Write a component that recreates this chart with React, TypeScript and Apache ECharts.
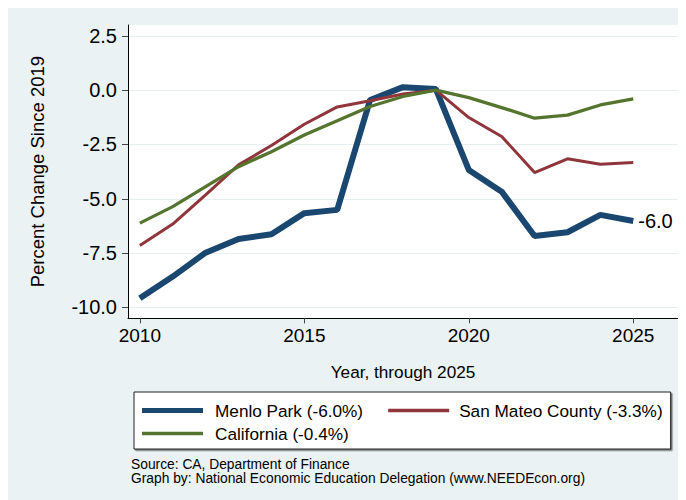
import React, { useEffect, useRef } from "react";
import * as echarts from "echarts";

const years = [2010, 2011, 2012, 2013, 2014, 2015, 2016, 2017, 2018, 2019, 2020, 2021, 2022, 2023, 2024, 2025];
const menloPark = [-9.58, -8.58, -7.48, -6.85, -6.63, -5.66, -5.51, -0.45, 0.14, 0.05, -3.67, -4.67, -6.71, -6.54, -5.74, -6.02];
const sanMateo = [-7.15, -6.16, -4.82, -3.44, -2.55, -1.57, -0.77, -0.49, -0.18, 0.0, -1.26, -2.13, -3.79, -3.16, -3.41, -3.33];
const california = [-6.12, -5.36, -4.44, -3.52, -2.83, -2.06, -1.41, -0.75, -0.29, 0.0, -0.34, -0.8, -1.29, -1.15, -0.68, -0.4];
const seriesNames = ["Menlo Park (-6.0%)", "San Mateo County (-3.3%)", "California (-0.4%)"];
const yTicks = [-10, -7.5, -5, -2.5, 0, 2.5];
const xTicks = [2010, 2015, 2020, 2025];
const xTitle = "Year, through 2025";
const yTitle = "Percent Change Since 2019";
const notes = ["Source: CA, Department of Finance", "Graph by: National Economic Education Delegation (www.NEEDEcon.org)"];

const FONT = "'Liberation Sans', Arial, Helvetica, sans-serif";

export default function App() {
  const ref = useRef<HTMLDivElement>(null);
  useEffect(() => {
    document.documentElement.style.overflow = "hidden";
    document.body.style.overflow = "hidden";
    const chart = echarts.init(ref.current!, undefined, { renderer: "svg" });
    const toPairs = (arr: number[]) => years.map((y, i) => [y, arr[i]]);
    chart.setOption({
      animation: false,
      backgroundColor: "#eaf2f3",
      textStyle: { fontFamily: FONT },
      grid: {
        left: 120,
        top: 17,
        right: 8,
        bottom: 181.7,
        show: true,
        backgroundColor: "#ffffff",
        borderWidth: 0,
      },
      xAxis: {
        type: "value",
        min: 2009.64,
        max: 2026.36,
        name: xTitle,
        nameLocation: "middle",
        nameGap: 45,
        nameTextStyle: { fontSize: 17.2, color: "#000", fontFamily: FONT },
        axisLine: { show: true, onZero: false, lineStyle: { color: "#000", width: 1 } },
        axisTick: { show: true, length: 5, customValues: xTicks, lineStyle: { color: "#444" } },
        axisLabel: {
          customValues: xTicks,
          fontSize: 19,
          color: "#000",
          margin: 8,
          fontFamily: FONT,
          formatter: (v: number) => String(v),
        },
        splitLine: { show: false },
      },
      yAxis: {
        type: "value",
        min: -10.5,
        max: 3.0,
        name: yTitle,
        nameLocation: "middle",
        nameGap: 81,
        nameRotate: 90,
        nameTextStyle: { fontSize: 18.5, color: "#000", fontFamily: FONT },
        axisLine: { show: true, onZero: false, lineStyle: { color: "#000", width: 1 } },
        axisTick: { show: true, length: 6, customValues: yTicks, lineStyle: { color: "#444" } },
        axisLabel: {
          customValues: yTicks,
          fontSize: 20,
          color: "#000",
          margin: 11,
          fontFamily: FONT,
          formatter: (v: number) => v.toFixed(1),
        },
        splitLine: { show: true, lineStyle: { color: "#e6eeef", width: 1.2 } },
      },
      legend: {
        left: 126,
        top: 384,
        width: 545,
        orient: "horizontal",
        itemGap: 6,
        itemWidth: 61,
        itemHeight: 14,
        padding: [10, 8, 7, 8],
        backgroundColor: "#ffffff",
        borderColor: "#222",
        borderWidth: 1,
        shadowColor: "rgba(0,0,0,0.5)",
        shadowOffsetX: 1.5,
        shadowOffsetY: 1.5,
        shadowBlur: 0,
        textStyle: { fontSize: 17.2, color: "#000", fontFamily: FONT },
        formatter: (name: string) =>
          name === seriesNames[0] ? name + "\u00A0\u00A0\u00A0\u00A0" : name,
        data: [
          { name: seriesNames[0], icon: "path://M0,0H61V5H0Z", textStyle: { padding: [0, 0, 0, 7] } },
          { name: seriesNames[1], icon: "path://M0,0H61V3.3H0Z", textStyle: { padding: [0, 0, 0, 5] } },
          { name: seriesNames[2], icon: "path://M0,0H61V3.5H0Z", textStyle: { padding: [0, 0, 0, 7] } },
        ],
      },
      graphic: [
        {
          type: "text",
          left: 123,
          top: 449,
          style: { text: notes[0], font: `13.8px ${FONT}`, fill: "#000" },
        },
        {
          type: "text",
          left: 123,
          top: 463,
          style: { text: notes[1], font: `13.8px ${FONT}`, fill: "#000" },
        },
      ],
      series: [
        {
          name: seriesNames[0],
          type: "line",
          data: toPairs(menloPark),
          symbol: "none",
          color: "#1a476f",
          lineStyle: { width: 6, color: "#1a476f" },
          endLabel: {
            show: true,
            formatter: (p: any) => p.value[1].toFixed(1),
            fontSize: 20,
            color: "#000",
            distance: 5,
            fontFamily: FONT,
          },
        },
        {
          name: seriesNames[1],
          type: "line",
          data: toPairs(sanMateo),
          symbol: "none",
          color: "#90353b",
          lineStyle: { width: 3, color: "#90353b" },
        },
        {
          name: seriesNames[2],
          type: "line",
          data: toPairs(california),
          symbol: "none",
          color: "#55752f",
          lineStyle: { width: 3.3, color: "#55752f" },
        },
      ],
    });
    return () => chart.dispose();
  }, []);
  return <div ref={ref} style={{ width: 678, height: 492 }} />;
}
